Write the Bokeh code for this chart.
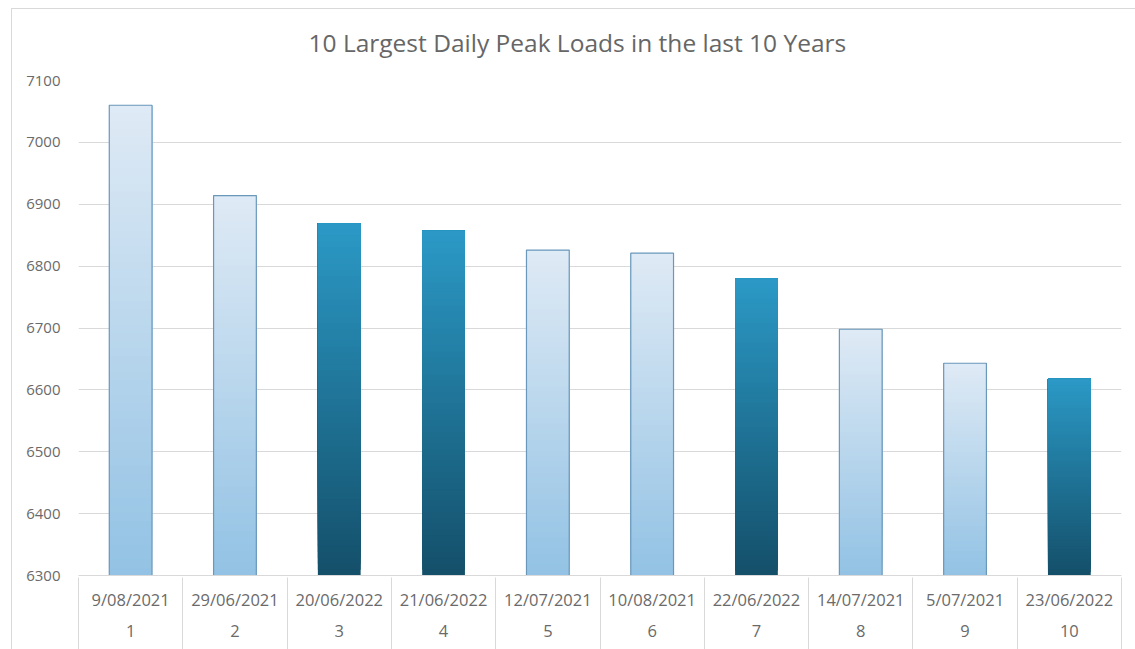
import numpy as np
from bokeh.plotting import figure
from bokeh.models import ColumnDataSource, Range1d, SingleIntervalTicker, FixedTicker, LinearAxis
from bokeh.embed import file_html
from bokeh.resources import INLINE

# ---- data ----
dates = ["9/08/2021", "29/06/2021", "20/06/2022", "21/06/2022", "12/07/2021",
         "10/08/2021", "22/06/2022", "14/07/2021", "5/07/2021", "23/06/2022"]
ranks = ["1", "2", "3", "4", "5", "6", "7", "8", "9", "10"]
loads = [7060, 6914, 6869, 6857, 6826, 6821, 6780, 6698, 6643, 6618]

title = "10 Largest Daily Peak Loads in the last 10 Years"
y_start, y_end = 6300, 7100

# ---- styles ----
FONT = "Open Sans"
TXT = "#6a6a6a"
GRID = "#d9d9d9"
grad = {
    "2021": ("#92c2e4", "#dfeaf5"),   # bottom, top
    "2022": ("#144f69", "#2b99c6"),
}
outline = {"2021": "#6a98bb", "2022": None}


def hex2rgb(h):
    h = h.lstrip("#")
    return np.array([int(h[i:i + 2], 16) for i in (0, 2, 4)], dtype=float)


def rgb2hex(c):
    return "#%02x%02x%02x" % tuple(int(round(v)) for v in c)


xpos = [int(r) for r in ranks]          # category positions 1..10
n = len(xpos)

# gradient: overlapping slices, each from its start up to the bar top,
# drawn bottom-first so later slices cover the earlier ones (no seams)
N = 60
seg = dict(x=[], bottom=[], top=[], color=[])
for x, d, v in zip(xpos, dates, loads):
    yr = d[-4:]
    c0, c1 = hex2rgb(grad[yr][0]), hex2rgb(grad[yr][1])
    edges = np.linspace(y_start, v, N + 1)
    for k in range(N):
        t = (k + 0.5) / N
        seg["x"].append(x)
        seg["bottom"].append(edges[k])
        seg["top"].append(v)
        seg["color"].append(rgb2hex(c0 + (c1 - c0) * t))

out_src = ColumnDataSource(dict(
    x=xpos, top=loads, bottom=[y_start] * n,
    la=[1.0 if outline[d[-4:]] else 0.0 for d in dates],
))

p = figure(
    x_range=Range1d(0.5, n + 0.5),
    y_range=Range1d(y_start, y_end),
    width=1135, height=649,
    output_backend="svg", toolbar_location=None,
    min_border_left=78, min_border_right=14, min_border_top=80, min_border_bottom=74,
    title=title, x_axis_location=None,
)
# light chart-area border (left and top edges) painted behind a transparent canvas border
p.styles = {
    "background-color": "white",
    "background-image": "linear-gradient(#d9d9d9, #d9d9d9), linear-gradient(#d9d9d9, #d9d9d9)",
    "background-position": "11px 8px, 11px 8px",
    "background-size": "1px 100%, 100% 1px",
    "background-repeat": "no-repeat, no-repeat",
}
p.border_fill_color = None
p.background_fill_color = "white"
p.outline_line_color = None
p.xgrid.grid_line_color = None

BW = 0.41
p.vbar(x="x", bottom="bottom", top="top", width=BW, source=ColumnDataSource(seg),
       fill_color="color", line_color=None)
p.vbar(x="x", bottom="bottom", top="top", width=BW, source=out_src,
       fill_color=None, line_color="#6a98bb", line_alpha="la", line_width=1.2)

# title
p.title.text_font = FONT
p.title.text_font_size = "24.5px"
p.title.text_font_style = "normal"
p.title.text_color = "#666666"
p.title.align = "left"
p.title.offset = 230
p.title.standoff = 44

# y axis
p.yaxis.ticker = SingleIntervalTicker(interval=100)
p.yaxis.axis_line_color = None
p.yaxis.major_tick_line_color = None
p.yaxis.minor_tick_line_color = None
p.yaxis.major_label_text_font = FONT
p.yaxis.major_label_text_font_size = "15px"
p.yaxis.major_label_text_color = TXT
p.yaxis.major_label_standoff = 12
p.ygrid.grid_line_color = GRID
p.ygrid.grid_line_width = 1

# category axis: date row, then rank row whose minor ticks draw the separators
bounds = [x - 0.5 for x in xpos] + [xpos[-1] + 0.5]
date_axis = LinearAxis(
    ticker=FixedTicker(ticks=xpos, minor_ticks=[]),
    major_label_overrides={x: d for x, d in zip(xpos, dates)},
    axis_line_color=GRID,
    major_tick_line_color=None, major_tick_in=0, major_tick_out=0,
    minor_tick_line_color=None, minor_tick_in=0, minor_tick_out=0,
    major_label_text_font=FONT, major_label_text_font_size="16.5px",
    major_label_text_color=TXT, major_label_standoff=12,
)
rank_axis = LinearAxis(
    ticker=FixedTicker(ticks=xpos, minor_ticks=bounds),
    major_label_overrides={x: r for x, r in zip(xpos, ranks)},
    axis_line_color=None,
    major_tick_line_color=None, major_tick_in=0, major_tick_out=0,
    minor_tick_line_color=GRID, minor_tick_in=36, minor_tick_out=36,
    major_label_text_font=FONT, major_label_text_font_size="16.5px",
    major_label_text_color=TXT, major_label_standoff=-25,
)
p.add_layout(date_axis, "below")
p.add_layout(rank_axis, "below")

open("out.html", "w").write(file_html(p, INLINE))
